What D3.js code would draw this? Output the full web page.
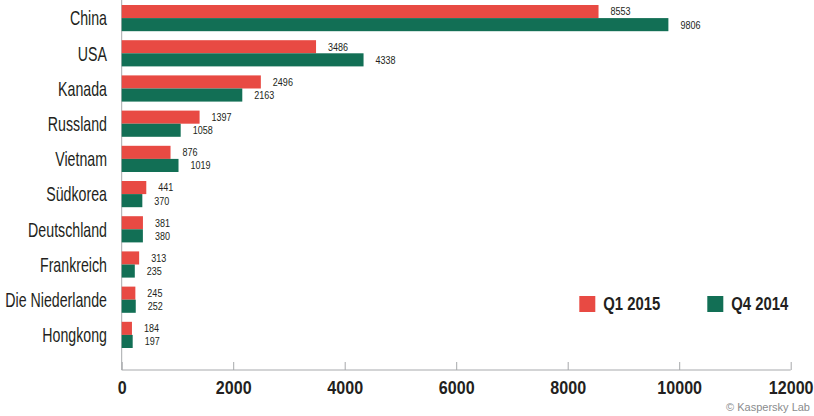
<!DOCTYPE html>
<html>
<head>
<meta charset="utf-8">
<script src="https://cdn.jsdelivr.net/npm/d3@7"></script>
<style>
  body { margin: 0; background: #fff; }
  text { font-family: "Liberation Sans", Arial, sans-serif; fill: #231f20; }
</style>
</head>
<body>
<svg id="chart" width="814" height="416"></svg>
<script>
// data
const countries = ['China', 'USA', 'Kanada', 'Russland', 'Vietnam', 'Südkorea',
  'Deutschland', 'Frankreich', 'Die Niederlande', 'Hongkong']
const q12015 = [8553, 3486, 2496, 1397, 876, 441, 381, 313, 245, 184]
const q42014 = [9806, 4338, 2163, 1058, 1019, 370, 380, 235, 252, 197]
const xTicks = [0, 2000, 4000, 6000, 8000, 10000, 12000]
const seriesNames = ['Q1 2015', 'Q4 2014']
const colors = ['#e84a43', '#126f55']

const svg = d3.select('#chart')
const left = 121.7
const right = 790.7
const axisY = 370

const x = d3.scaleLinear().domain([0, 12000]).range([left, right])
const y = d3.scaleBand().domain(countries).range([5, 348]).paddingInner(0.256).paddingOuter(0)
const sub = d3.scaleBand().domain([0, 1]).range([0, y.bandwidth()])

// places a horizontally squeezed text at (px, py), looks like a condensed face
function narrowText (sel, px, py, k) {
  return sel.attr('transform', (d, i) =>
    'translate(' + px(d, i) + ',' + py(d, i) + ') scale(' + k + ',1)')
}

// x axis with ticks pointing up
const xAxis = svg.append('g')
  .attr('class', 'x-axis')
  .attr('transform', 'translate(0,' + axisY + ')')
  .call(d3.axisBottom(x).tickValues(xTicks).tickSize(-8).tickFormat(d3.format('d')))
xAxis.select('.domain').attr('stroke', '#a7a9ac').attr('d', 'M' + left + ',0H' + right)
xAxis.selectAll('.tick line').attr('stroke', '#a7a9ac')
xAxis.selectAll('.tick text')
  .attr('font-family', '"Liberation Sans", Arial, sans-serif')
  .attr('font-size', 18.5)
  .attr('font-weight', 'bold')
  .attr('fill', '#231f20')
  .attr('y', 0)
  .attr('dy', 0)
  .attr('transform', 'translate(0,23.5) scale(0.87,1)')

// y axis line
svg.append('line')
  .attr('x1', left).attr('x2', left)
  .attr('y1', 0).attr('y2', axisY)
  .attr('stroke', '#a7a9ac')

// category labels
svg.append('g').selectAll('text')
  .data(countries)
  .join('text')
  .call(narrowText, () => 107, d => y(d) + y.bandwidth() / 2, 0.71)
  .attr('dy', '0.36em')
  .attr('text-anchor', 'end')
  .attr('font-size', 20)
  .text(d => d)

// bars + value labels
const series = [q12015, q42014]
series.forEach((vals, i) => {
  const g = svg.append('g')
  g.selectAll('rect')
    .data(vals)
    .join('rect')
    .attr('x', x(0))
    .attr('y', (d, j) => y(countries[j]) + sub(i))
    .attr('width', d => x(d) - x(0))
    .attr('height', sub.bandwidth())
    .attr('fill', colors[i])

  g.selectAll('text')
    .data(vals)
    .join('text')
    .call(narrowText, d => x(d) + 12, (d, j) => y(countries[j]) + sub(i) + sub.bandwidth() / 2, 0.82)
    .attr('dy', '0.35em')
    .attr('font-size', 11)
    .text(d => d)
})

// legend
const legendX = [579.3, 707.3]
seriesNames.forEach((name, i) => {
  svg.append('rect')
    .attr('x', legendX[i]).attr('y', 296)
    .attr('width', 16).attr('height', 16)
    .attr('fill', colors[i])
  svg.append('text')
    .datum(name)
    .call(narrowText, () => legendX[i] + 24, () => 304, 0.825)
    .attr('dy', '0.35em')
    .attr('font-size', 18)
    .attr('font-weight', 'bold')
    .text(name)
})

svg.append('text')
  .attr('x', 810).attr('y', 407)
  .attr('dy', '0.35em')
  .attr('text-anchor', 'end')
  .attr('font-size', 11)
  .style('fill', '#8a8c8e')
  .text('© Kaspersky Lab')
</script>
</body>
</html>
